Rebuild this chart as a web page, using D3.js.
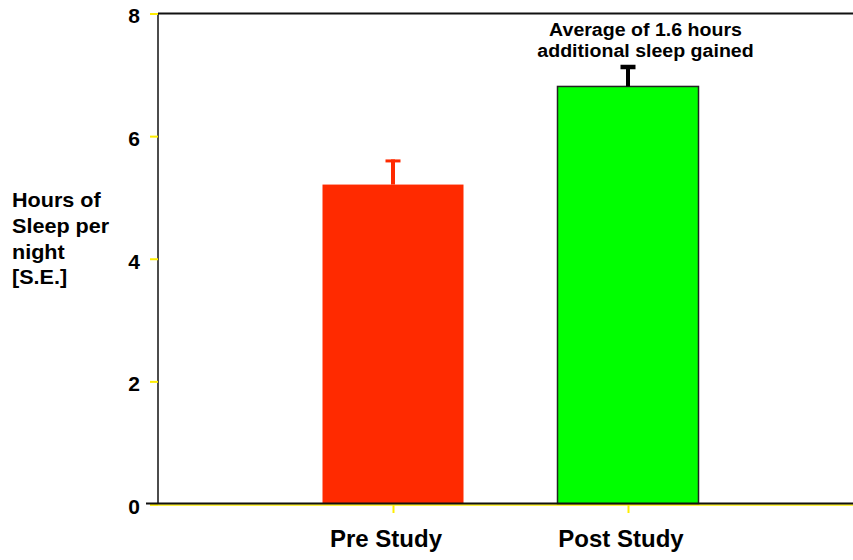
<!DOCTYPE html>
<html>
<head>
<meta charset="utf-8">
<script src="https://cdn.jsdelivr.net/npm/d3@7"></script>
<style>
  html, body { margin: 0; padding: 0; background: #fff; }
  svg { display: block; font-family: "Liberation Sans", Arial, sans-serif; font-weight: bold; }
</style>
</head>
<body>
<svg id="chart" width="853" height="560"></svg>
<script>
// ---- data ----
const categories = ["Pre Study", "Post Study"];
const means = [5.21, 6.81];
const stdErrors = [0.41, 0.35];
const barColors = ["#ff2a00", "#00ff00"];
const errColors = ["#ff2a00", "#000000"];
const yTicks = [0, 2, 4, 6, 8];
const yLabelLines = ["Hours of", "Sleep per", "night", "[S.E.]"];
const annotationLines = ["Average of 1.6 hours", "additional sleep gained"];

const svg = d3.select("#chart");

const x = d3.scaleLinear().domain([0, 3]).range([158, 863]);
const y = d3.scaleLinear().domain([0, 8]).range([504, 13.5]);
const barW = x(0.6) - x(0);

// top frame line
svg.append("line")
  .attr("x1", x(0)).attr("x2", 853)
  .attr("y1", y(8)).attr("y2", y(8))
  .attr("stroke", "#111").attr("stroke-width", 2);

// bars
svg.selectAll("rect.bar").data(categories).join("rect")
  .attr("class", "bar")
  .attr("x", (d, i) => x(i + 1) - barW / 2)
  .attr("width", barW)
  .attr("y", (d, i) => y(means[i]))
  .attr("height", (d, i) => y(0) - y(means[i]))
  .attr("fill", (d, i) => barColors[i])
  .attr("stroke", (d, i) => i === 1 ? "#222" : "none")
  .attr("stroke-width", 1.5);

// error bars
const eb = svg.selectAll("g.err").data(categories).join("g").attr("class", "err");
eb.append("line")
  .attr("x1", (d, i) => x(i + 1)).attr("x2", (d, i) => x(i + 1))
  .attr("y1", (d, i) => y(means[i]))
  .attr("y2", (d, i) => y(means[i] + stdErrors[i]))
  .attr("stroke", (d, i) => errColors[i])
  .attr("stroke-width", 4);
eb.append("line")
  .attr("x1", (d, i) => x(i + 1) - 7.5).attr("x2", (d, i) => x(i + 1) + 7.5)
  .attr("y1", (d, i) => y(means[i] + stdErrors[i]) + (i === 1 ? 2 : 1.5))
  .attr("y2", (d, i) => y(means[i] + stdErrors[i]) + (i === 1 ? 2 : 1.5))
  .attr("stroke", (d, i) => errColors[i])
  .attr("stroke-width", (d, i) => i === 1 ? 4.5 : 3);

// y axis
const yAxis = svg.append("g").attr("transform", `translate(${x(0)},0)`)
  .call(d3.axisLeft(y).tickValues(yTicks).tickSize(8).tickPadding(10).tickFormat(d3.format("d")));
yAxis.select(".domain").attr("stroke", "#111").attr("stroke-width", 1.5)
  .attr("d", `M0,${y(8)}V${y(0)}`);
yAxis.selectAll(".tick line").attr("stroke", "#ffee00").attr("stroke-width", 2);
yAxis.selectAll(".tick text")
  .attr("font-size", 21).attr("font-weight", "bold").attr("fill", "#000")
  .attr("font-family", "Liberation Sans, Arial, sans-serif")
  .attr("dy", "0.45em");

// x axis
const xAxis = svg.append("g").attr("transform", `translate(0,${y(0) + 1})`)
  .call(d3.axisBottom(x).tickValues([1, 2]).tickSize(8).tickFormat(""));
xAxis.select(".domain").attr("stroke", "#ffee00").attr("stroke-width", 1.5)
  .attr("d", `M150,0H853`);
xAxis.selectAll(".tick line").attr("stroke", "#ffee00").attr("stroke-width", 2);
svg.append("line")
  .attr("x1", 146).attr("x2", 853)
  .attr("y1", y(0) - 0.5).attr("y2", y(0) - 0.5)
  .attr("stroke", "#111").attr("stroke-width", 2);

// x labels
svg.selectAll("text.xlab").data(categories).join("text")
  .attr("class", "xlab")
  .attr("x", (d, i) => x(i + 1) - 7)
  .attr("y", 547)
  .attr("text-anchor", "middle")
  .attr("font-size", 24)
  .text(d => d);

// y label
svg.append("text")
  .attr("transform", "translate(12,0) scale(1.08,1)")
  .attr("font-size", 20)
  .selectAll("tspan").data(yLabelLines).join("tspan")
  .attr("x", 0)
  .attr("y", (d, i) => 207 + i * 25.8)
  .text(d => d);

// annotation
svg.append("text")
  .attr("transform", "translate(645.5,0) scale(1.02,1)")
  .attr("font-size", 19.2)
  .attr("text-anchor", "middle")
  .selectAll("tspan").data(annotationLines).join("tspan")
  .attr("x", 0)
  .attr("y", (d, i) => 36 + i * 21)
  .text(d => d);
</script>
</body>
</html>
